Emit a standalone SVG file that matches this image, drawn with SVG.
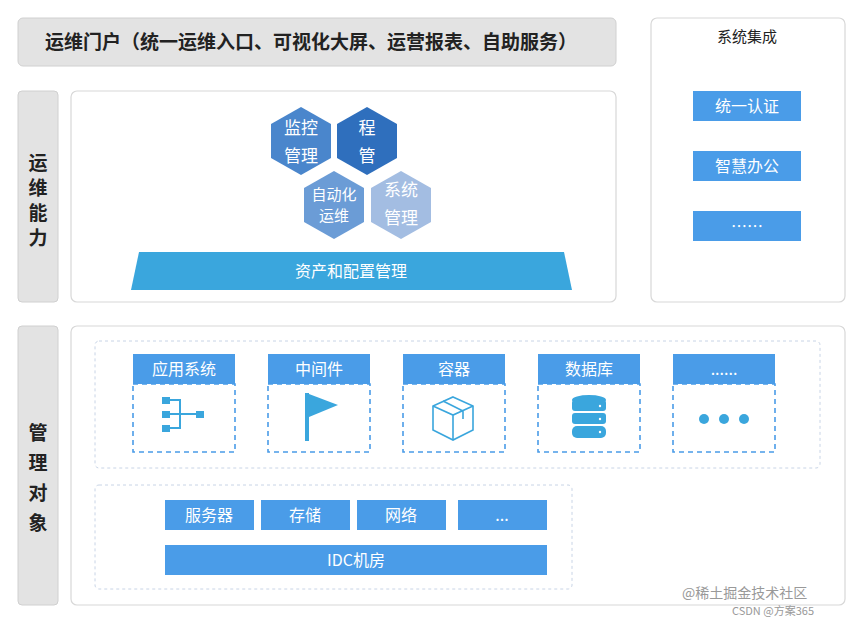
<svg xmlns="http://www.w3.org/2000/svg" width="860" height="624" viewBox="0 0 860 624">
<style>
text{font-family:"Noto Sans CJK SC","Liberation Sans",sans-serif}
.gray{fill:#e3e3e3;stroke:#d0d0d0}
.panel{fill:#fff;stroke:#d8d8d8;stroke-width:1.2}
.btn{fill:#4a9ce8}
.wt{fill:#fff;font-size:16px;text-anchor:middle}
.side{fill:#222;font-size:19px;font-weight:bold;text-anchor:middle}
.dash{fill:none;stroke:#c8d4e6;stroke-dasharray:3 3}
.cdash{fill:none;stroke:#4a9ce8;stroke-width:1.6;stroke-dasharray:5 4}
.ic{fill:#3aa6dd}
</style>
<rect width="860" height="624" fill="#fff"/>
<g id="portal"><rect class="gray" x="18" y="18" width="598" height="48" rx="5"/>
<text x="45" y="49" font-size="19" font-weight="bold" fill="#222">运维门户（统一运维入口、可视化大屏、运营报表、自助服务）</text></g>
<g id="integration"><rect class="panel" x="651" y="18" width="194" height="284" rx="6"/>
<text x="747" y="42" font-size="15" text-anchor="middle" fill="#222">系统集成</text>
<rect class="btn" x="693" y="91" width="108" height="30"/><text class="wt" x="747" y="112">统一认证</text>
<rect class="btn" x="693" y="151" width="108" height="30"/><text class="wt" x="747" y="172">智慧办公</text>
<rect class="btn" x="693" y="211" width="108" height="30"/><text class="wt" x="747" y="232">……</text></g>
<g id="capability"><rect class="gray" x="18" y="91" width="40" height="211" rx="4"/>
<text class="side" x="38" y="170">运</text><text class="side" x="38" y="195">维</text><text class="side" x="38" y="220">能</text><text class="side" x="38" y="245">力</text>
<rect class="panel" x="71" y="91" width="545" height="211" rx="6"/>
<g id="hexes" font-size="17" fill="#fff" text-anchor="middle">
<polygon points="301,107 331,124 331,158 301,175 271,158 271,124" fill="#4a86cc"/>
<text x="301" y="134" fill="#fff">监控</text><text x="301" y="162" fill="#fff">管理</text>
<polygon points="367,107 397,124 397,158 367,175 337,158 337,124" fill="#2f6fbd"/>
<text x="367" y="134" fill="#fff">程</text><text x="367" y="162" fill="#fff">管</text>
<polygon points="334,171 364,188 364,222 334,239 304,222 304,188" fill="#6b9cd6"/>
<text x="334" y="200" fill="#fff" font-size="15">自动化</text><text x="334" y="221" fill="#fff" font-size="15">运维</text>
<polygon points="401,171 431,188 431,222 401,239 371,222 371,188" fill="#a3bde2"/>
<text x="401" y="196" fill="#fff">系统</text><text x="401" y="224" fill="#fff">管理</text>
</g>
<polygon points="139,252 564,252 572,290 131,290" fill="#3aa6dd"/>
<text class="wt" x="351" y="277">资产和配置管理</text></g>
<g id="objects"><rect class="gray" x="18" y="326" width="40" height="279" rx="4"/>
<text class="side" x="38" y="440">管</text><text class="side" x="38" y="470">理</text><text class="side" x="38" y="500">对</text><text class="side" x="38" y="530">象</text>
<rect class="panel" x="71" y="326" width="774" height="279" rx="6"/>
<rect class="dash" x="95" y="341" width="725" height="127" rx="4"/>
<g id="card-app"><rect class="btn" x="133" y="354" width="102" height="30"/><text class="wt" x="184" y="375">应用系统</text><rect class="cdash" x="133" y="384" width="102" height="68"/>
<rect class="ic" x="162" y="397" width="8" height="7"/><rect class="ic" x="162" y="411" width="8" height="7"/><rect class="ic" x="162" y="425" width="8" height="7"/><rect class="ic" x="196" y="411" width="8" height="7"/>
<path d="M170,400H180V428H170M170,414H196" stroke="#3aa6dd" stroke-width="2" fill="none"/></g>
<g id="card-mid"><rect class="btn" x="268" y="354" width="102" height="30"/><text class="wt" x="319" y="375">中间件</text><rect class="cdash" x="268" y="384" width="102" height="68"/>
<rect class="ic" x="305" y="393" width="4" height="48"/><polygon class="ic" points="309,394 338,405 309,417"/></g>
<g id="card-container"><rect class="btn" x="403" y="354" width="102" height="30"/><text class="wt" x="454" y="375">容器</text><rect class="cdash" x="403" y="384" width="102" height="68"/>
<g fill="none" stroke="#3aa6dd" stroke-width="1.6"><path d="M453,397 L473,406 L473,430 L453,440 L433,430 L433,406 Z"/><path d="M433,406 L453,415 L473,406 M453,415 V440 M443,401 L463,411 V419"/></g></g>
<g id="card-db"><rect class="btn" x="538" y="354" width="102" height="30"/><text class="wt" x="589" y="375">数据库</text><rect class="cdash" x="538" y="384" width="102" height="68"/>
<ellipse class="ic" cx="589" cy="400" rx="17" ry="5"/><rect class="ic" x="572" y="400" width="34" height="11" rx="3"/><rect class="ic" x="572" y="413" width="34" height="11" rx="3"/><rect class="ic" x="572" y="426" width="34" height="12" rx="5"/>
<circle cx="600" cy="406" r="1.2" fill="#fff"/><circle cx="600" cy="419" r="1.2" fill="#fff"/><circle cx="600" cy="432" r="1.2" fill="#fff"/></g>
<g id="card-more"><rect class="btn" x="673" y="354" width="102" height="30"/><text class="wt" x="724" y="375">......</text><rect class="cdash" x="673" y="384" width="102" height="68"/>
<circle class="ic" cx="704" cy="419" r="5"/><circle class="ic" cx="724" cy="419" r="5"/><circle class="ic" cx="744" cy="419" r="5"/></g>
<rect class="dash" x="95" y="485" width="477" height="104" rx="4"/>
<g id="infra"><rect class="btn" x="165" y="500" width="89" height="30"/><text class="wt" x="209" y="521">服务器</text>
<rect class="btn" x="261" y="500" width="89" height="30"/><text class="wt" x="305" y="521">存储</text>
<rect class="btn" x="357" y="500" width="89" height="30"/><text class="wt" x="401" y="521">网络</text>
<rect class="btn" x="458" y="500" width="89" height="30"/><text class="wt" x="502" y="521">...</text>
<rect class="btn" x="165" y="545" width="382" height="30"/><text class="wt" x="356" y="566">IDC机房</text></g></g>
<g id="watermark" fill="#999"><text x="682" y="598" font-size="14">@稀土掘金技术社区</text><text x="732" y="615" font-size="11">CSDN @方案365</text></g>
</svg>
